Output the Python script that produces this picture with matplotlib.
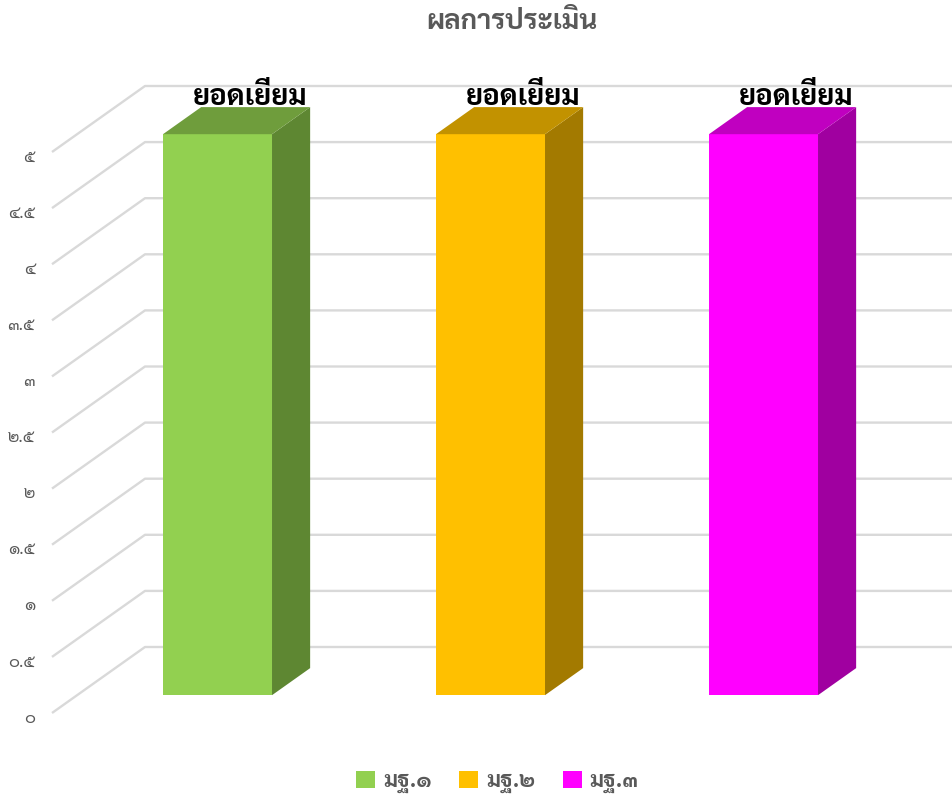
import matplotlib
matplotlib.use('Agg')
import matplotlib.pyplot as plt
import matplotlib.patheffects as pe
from matplotlib import font_manager
from matplotlib.ft2font import FT2Font
from matplotlib.patches import Polygon, Patch

# chart data
categories = ['มฐ.๑', 'มฐ.๒', 'มฐ.๓']
values = [5, 5, 5]
bar_labels = ['ยอดเยี่ยม', 'ยอดเยี่ยม', 'ยอดเยี่ยม']
tick_values = [0, 0.5, 1, 1.5, 2, 2.5, 3, 3.5, 4, 4.5, 5]
tick_labels = ['๐', '๐.๕', '๑', '๑.๕', '๒', '๒.๕', '๓', '๓.๕', '๔', '๔.๕', '๕']
title = 'ผลการประเมิน'

front_colors = ['#92D050', '#FFC000', '#FF00FF']
top_colors = ['#6F9D3C', '#C29200', '#C000C0']
side_colors = ['#5E8732', '#A37A00', '#A000A0']


def find_thai_font():
    ''' pick an installed family with Thai glyphs, one with a bold face if possible '''
    preferred = ['Noto Sans Thai', 'Noto Sans Thai UI', 'Leelawadee UI', 'Tahoma',
                 'Sarabun', 'Kanit', 'Prompt', 'Loma', 'Garuda', 'Waree',
                 'Umpush', 'Norasi', 'Kinnari', 'Laksaman', 'Tlwg Typo']
    weights = {}
    for f in font_manager.fontManager.ttflist:
        try:
            cmap = FT2Font(f.fname).get_charmap()
        except Exception:
            continue
        if 0x0E01 in cmap and 0x0E51 in cmap:
            w = f.weight if isinstance(f.weight, int) else (700 if 'bold' in str(f.weight) else 400)
            weights.setdefault(f.name, set()).add(w)
    with_bold = [n for n, ws in weights.items() if max(ws) >= 600]
    for name in preferred:
        if name in with_bold:
            return name, True
    if with_bold:
        return with_bold[0], True
    for name in preferred:
        if name in weights:
            return name, False
    return next(iter(weights), 'DejaVu Sans'), False


THAI, HAS_BOLD = find_thai_font()
plt.rcParams['font.family'] = [THAI, 'DejaVu Sans']


def bold_fx(color, lw):
    # fake bold when the Thai family has no bold face
    if HAS_BOLD:
        return []
    return [pe.withStroke(linewidth=lw, foreground=color)]


W, H = 953, 801
fig = plt.figure(figsize=(W / 100, H / 100), dpi=100)
ax = fig.add_axes([0, 0, 1, 1])
ax.axis('off')

# pixel scales of the pseudo 3D frame
PX_X = 273.0      # pixels per category
PX_Y = 112.2      # pixels per value unit
X0_PX = 192.4     # front-plane x of first category
Y0_PX = 713.0     # front-plane y of value 0
DX = 93 / PX_X    # depth offset (x) of the back wall
DY = 66 / PX_Y    # depth offset (y) of the back wall

ax.set_xlim(-X0_PX / PX_X, (W - X0_PX) / PX_X)
ax.set_ylim(-(H - Y0_PX) / PX_Y, Y0_PX / PX_Y)


def proj(x, v, d):
    return (x + d * DX, v + d * DY)


axis_left = (52 - X0_PX) / PX_X
x_right = (W - X0_PX) / PX_X
grid_color = '#D9D9D9'
for v, lab in zip(tick_values, tick_labels):
    p0 = proj(axis_left, v, 0)
    p1 = proj(axis_left, v, 1)
    ax.plot([p0[0], p1[0], x_right], [p0[1], p1[1], p1[1]],
            color=grid_color, lw=1.7, zorder=1, solid_capstyle='butt')
    ax.text((35 - X0_PX) / PX_X, v - 0.045, lab, ha='right', va='center',
            fontsize=12, color='#595959')

bar_w = 109 / PX_X
d0, d1 = 0.27, 0.68
for i, v in enumerate(values):
    xl, xr = i - bar_w / 2, i + bar_w / 2
    front = [proj(xl, 0, d0), proj(xr, 0, d0), proj(xr, v, d0), proj(xl, v, d0)]
    side = [proj(xr, 0, d0), proj(xr, 0, d1), proj(xr, v, d1), proj(xr, v, d0)]
    top = [proj(xl, v, d0), proj(xr, v, d0), proj(xr, v, d1), proj(xl, v, d1)]
    ax.add_patch(Polygon(front, closed=True, fc=front_colors[i], ec='none', zorder=3))
    ax.add_patch(Polygon(side, closed=True, fc=side_colors[i], ec='none', zorder=3))
    ax.add_patch(Polygon(top, closed=True, fc=top_colors[i], ec='none', zorder=3))
    lx, ly = proj(i, v, d1)
    ax.text(lx - 0.02, ly + 0.02, bar_labels[i], ha='center', va='baseline',
            fontsize=21, fontweight='bold', color='black', zorder=5,
            path_effects=bold_fx('black', 1.6))

fig.text(0.537, 1 - 22 / H, title, ha='center', va='center',
         fontsize=20, fontweight='bold', color='#595959',
         path_effects=bold_fx('#595959', 1.4))

handles = [Patch(fc=c, ec='none') for c in front_colors]
leg = fig.legend(handles, categories, loc='center', bbox_to_anchor=(0.522, 1 - 782 / H),
                 ncol=3, frameon=False, handlelength=0.85, handleheight=0.85,
                 handletextpad=0.35, columnspacing=1.25,
                 prop={'size': 16, 'weight': 'bold'}, labelcolor='#595959')
for t in leg.get_texts():
    t.set_path_effects(bold_fx('#595959', 1.2))

fig.savefig('out.png', dpi=100)
